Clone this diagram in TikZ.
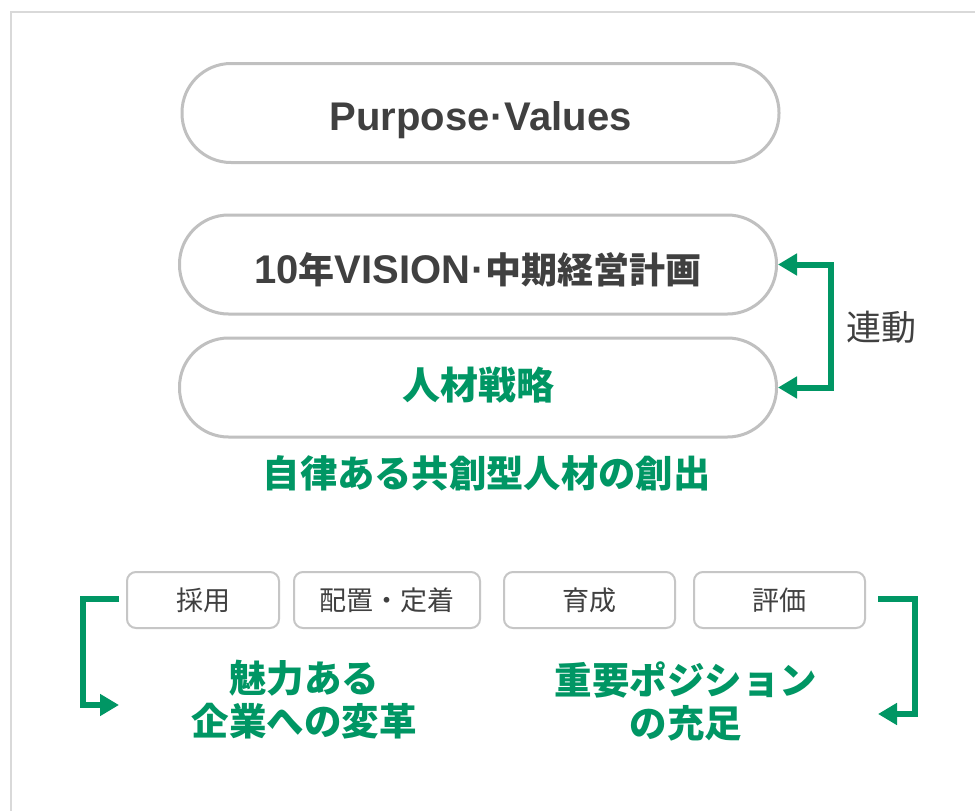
\documentclass[tikz,border=0pt]{standalone}
\usepackage{fontspec}
\setmainfont{Noto Sans CJK JP}
\newfontfamily\lib{Liberation Sans}
\usetikzlibrary{arrows.meta}
\definecolor{grn}{RGB}{0,150,100}
\definecolor{txt}{RGB}{64,64,64}
\definecolor{edge}{RGB}{192,192,192}
\definecolor{frame}{RGB}{217,217,217}
\newcommand\latb[1]{{\lib\bfseries\fontsize{40}{44}\selectfont #1}}
\tikzset{
  pill/.style={draw=edge, line width=3pt, rounded corners=49pt, minimum width=597pt, minimum height=99pt, inner sep=0pt, text=txt, font=\bfseries\fontsize{36}{40}\selectfont},
  smallbox/.style={draw=edge!90!white, line width=2pt, rounded corners=9pt, minimum height=56pt, inner sep=0pt, text=txt, font=\fontsize{27}{30}\selectfont},
  gtext/.style={text=grn, font=\bfseries\fontsize{37.5}{43}\selectfont, align=center, inner sep=0pt},
  garrow/.style={draw=grn, line width=6pt, line join=miter, -{Triangle[length=19pt,width=21pt]}},
  gdarrow/.style={draw=grn, line width=6pt, line join=miter, {Triangle[length=19pt,width=21pt]}-{Triangle[length=19pt,width=21pt]}}
}
\begin{document}
\begin{tikzpicture}[x=1pt,y=-1pt]
\useasboundingbox (0,0) rectangle (975,811);
\fill[white] (0,0) rectangle (975,811);
\draw[frame, line width=2pt] (10.5,811) -- (10.5,11.5) -- (975,11.5);

\node[pill, text height=34pt, text depth=0pt] (pv) at (480.5,113)
  {\latb{Purpose\kern1pt·\kern1ptValues}};
\node[pill, text height=37pt, text depth=0pt] (vis) at (478,264.5)
  {\latb{10}年\latb{VISION\kern1pt·\kern1pt}中期経営計画};
\node[pill, text=grn, text height=23pt, text depth=0pt, font=\bfseries\fontsize{38}{40}\selectfont] (hr) at (478,387.5) {人材戦略};

\draw[gdarrow] (vis.east) -- ++(53,0) |- (hr.east);
\node[text=txt, font=\fontsize{35}{40}\selectfont, inner sep=0pt, anchor=west] (rd) at (846,327) {連動};

\node[gtext, font=\bfseries\fontsize{37.3}{43}\selectfont] (goal) at (486.5,473) {自律ある共創型人材の創出};

\node[smallbox, minimum width=152pt] (s1) at (203,600) {採用};
\node[smallbox, minimum width=186pt] (s2) at (387,600) {配置・定着};
\node[smallbox, minimum width=171pt] (s3) at (589.5,600) {育成};
\node[smallbox, minimum width=171pt] (s4) at (779.5,600) {評価};

\node[gtext] (l1) at (304,700) {魅力ある\\企業への変革};
\node[gtext] (l2) at (686,701) {重要ポジション\\の充足};

\coordinate (la) at (119,599);
\coordinate (lb) at (119,705);
\draw[garrow] (la) -- (83,599) |- (lb);
\coordinate (ra) at (878,599);
\coordinate (rb) at (878,714);
\draw[garrow] (ra) -- (915,599) |- (rb);
\end{tikzpicture}
\end{document}
